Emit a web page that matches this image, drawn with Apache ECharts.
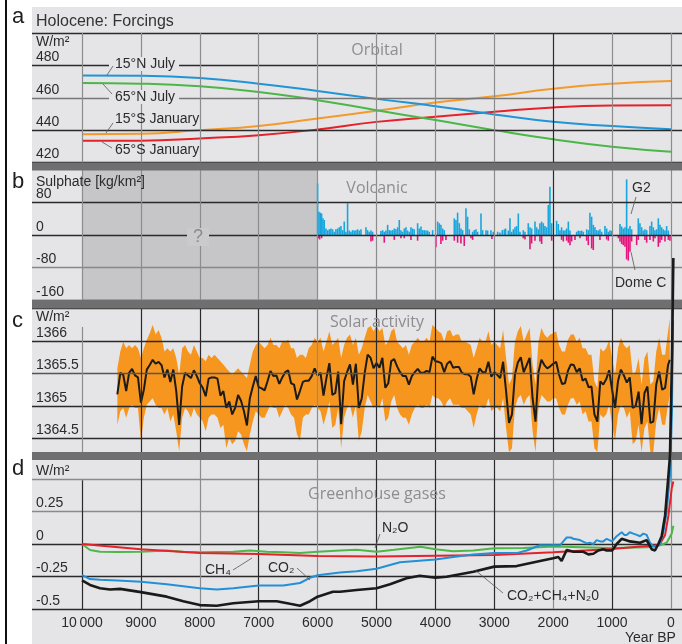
<!DOCTYPE html>
<html><head><meta charset="utf-8">
<script src="https://cdn.jsdelivr.net/npm/echarts@6/dist/echarts.min.js"></script>
<style>html,body{margin:0;padding:0;background:#fff}#c{width:682px;height:644px}</style>
</head><body><div id="c"></div>
<script>
// ---------- DATA ----------
const yearTicks = [10000,9000,8000,7000,6000,5000,4000,3000,2000,1000,0];

// a) Orbital insolation (W/m2)
const orbYears = [10000,9000,8000,7000,6000,5000,4000,3000,2000,1000,0];
const orb15NJuly = [473.8,473.6,472.2,468.7,464.2,459.3,454.8,449.7,445.1,442.5,440.6];
const orb65NJuly = [469.1,468.7,467.1,463.6,458.5,452.3,446.2,440.0,434.3,429.7,426.6];
const orb15SJan  = [437.5,437.8,440.0,442.5,447.2,451.9,457.0,460.9,465.6,468.7,470.3];
const orb65SJan  = [433.4,433.5,434.9,436.9,440.4,445.1,448.2,451.3,454.0,455.2,455.4];

// b) Volcanic sulphate (kg/km2) [year BP, value]
const g2Sulphate = [[6000,127],[5977,57],[5955,55],[5932,53],[5909,41],[5887,37],[5858,16],[5830,12],[5802,14],[5774,16],[5745,14],[5717,8],[5689,14],[5660,16],[5632,19],[5604,22],[5575,12],[5547,33],[5519,8],[5491,78],[5462,11],[5434,8],[5406,12],[5377,11],[5349,12],[5321,14],[5293,11],[5264,14],[5179,19],[5151,12],[5123,8],[5094,11],[5066,8],[4925,10],[4896,12],[4868,8],[4840,11],[4811,25],[4783,12],[4755,11],[4726,12],[4698,16],[4670,14],[4641,19],[4613,37],[4585,12],[4557,8],[4528,16],[4500,19],[4472,11],[4443,8],[4415,19],[4387,16],[4359,14],[4302,29],[4274,16],[4245,21],[4217,12],[4189,12],[4160,11],[4132,11],[4104,8],[4047,12],[3962,33],[3934,29],[3906,25],[3877,16],[3849,12],[3679,41],[3651,37],[3623,55],[3594,29],[3566,16],[3538,12],[3481,66],[3453,45],[3424,14],[3368,8],[3340,12],[3311,14],[3283,8],[3226,53],[3198,12],[3141,12],[3113,11],[3057,12],[3017,8],[2943,8],[2904,6],[2864,12],[2830,14],[2808,16],[2762,11],[2734,41],[2706,8],[2677,14],[2649,19],[2621,22],[2592,53],[2564,8],[2508,12],[2479,8],[2423,29],[2394,19],[2366,16],[2309,33],[2281,19],[2253,14],[2225,29],[2196,33],[2168,29],[2140,22],[2111,19],[2083,74],[2055,119],[2026,29],[1942,35],[1913,27],[1885,12],[1857,19],[1828,11],[1800,12],[1772,16],[1743,33],[1715,11],[1602,8],[1574,11],[1545,10],[1517,11],[1489,8],[1432,14],[1404,12],[1376,55],[1347,45],[1319,25],[1291,19],[1262,12],[1234,11],[1206,14],[1177,8],[1121,22],[1092,16],[1064,8],[1036,12],[1008,10],[866,27],[838,21],[810,16],[781,19],[753,137],[725,16],[696,22],[668,14],[555,41],[527,29],[498,19],[470,11],[442,14],[413,12],[357,22],[328,33],[300,19],[272,12],[243,14],[215,41],[187,25],[158,19],[130,14],[102,11],[74,22],[45,11]];
const domeCSulphate = [[5989,-8],[5966,-11],[5932,-8],[5094,-16],[5066,-14],[4868,-19],[4698,-12],[4585,-8],[4528,-8],[4415,-12],[4302,-14],[3991,-30],[3906,-22],[3877,-14],[3821,-12],[3679,-14],[3623,-19],[3566,-21],[3510,-27],[3396,-8],[3368,-12],[3040,-10],[2508,-8],[2479,-11],[2394,-35],[2366,-21],[2309,-14],[2225,-16],[2196,-22],[2026,-14],[1857,-12],[1828,-16],[1772,-14],[1743,-19],[1715,-25],[1687,-16],[1630,-12],[1545,-8],[1432,-14],[1404,-25],[1347,-33],[1319,-37],[1206,-12],[1092,-11],[1064,-14],[894,-8],[866,-16],[838,-22],[810,-25],[781,-29],[753,-60],[725,-63],[696,-41],[668,-16],[583,-25],[555,-12],[442,-12],[413,-19],[357,-12],[300,-16],[272,-8],[215,-29],[187,-19],[158,-12],[102,-16],[45,-12],[17,-14]];

// c) Solar irradiance (W/m2) [year BP, value]
const solarMean = [[9400,1365.18],[9350,1365.51],[9300,1365.48],[9250,1365.23],[9200,1365.51],[9150,1365.57],[9100,1365.47],[9050,1365.44],[9000,1365.05],[8950,1365.25],[8900,1365.56],[8850,1365.63],[8800,1365.71],[8750,1365.65],[8700,1365.68],[8650,1365.63],[8600,1365.44],[8550,1365.56],[8500,1365.37],[8450,1365.56],[8400,1365.23],[8350,1364.71],[8300,1365.30],[8250,1365.51],[8200,1365.47],[8150,1365.43],[8100,1365.55],[8050,1365.46],[8000,1365.35],[7950,1365.28],[7900,1365.15],[7850,1365.42],[7800,1365.44],[7750,1365.44],[7700,1365.42],[7650,1365.16],[7600,1365.23],[7550,1364.97],[7500,1365.07],[7450,1364.87],[7400,1364.97],[7350,1365.17],[7300,1365.08],[7250,1364.92],[7200,1364.70],[7150,1365.12],[7100,1365.30],[7050,1365.46],[7000,1365.29],[6950,1365.27],[6900,1365.24],[6850,1365.38],[6800,1365.54],[6750,1365.46],[6700,1365.47],[6650,1365.34],[6600,1365.44],[6550,1365.52],[6500,1365.55],[6450,1365.35],[6400,1365.33],[6350,1365.10],[6300,1365.23],[6250,1365.37],[6200,1365.39],[6150,1365.39],[6100,1365.46],[6050,1365.58],[6000,1365.47],[5950,1365.51],[5900,1365.16],[5850,1365.43],[5800,1365.66],[5750,1365.17],[5700,1365.20],[5650,1365.53],[5600,1364.72],[5550,1365.38],[5500,1365.52],[5450,1365.64],[5400,1365.33],[5350,1365.65],[5300,1364.97],[5250,1365.12],[5200,1365.51],[5150,1365.79],[5100,1365.74],[5050,1365.58],[5000,1365.66],[4950,1365.59],[4900,1365.74],[4850,1365.28],[4800,1365.35],[4750,1365.69],[4700,1365.72],[4650,1365.61],[4600,1365.52],[4550,1365.46],[4500,1365.46],[4450,1365.33],[4400,1365.46],[4350,1365.52],[4300,1365.57],[4250,1365.51],[4200,1365.51],[4150,1365.54],[4100,1365.52],[4050,1365.76],[4000,1365.69],[3950,1365.68],[3900,1365.66],[3850,1365.52],[3800,1365.65],[3750,1365.69],[3700,1365.59],[3650,1365.60],[3600,1365.60],[3550,1365.51],[3500,1365.49],[3450,1365.49],[3400,1365.45],[3350,1365.18],[3300,1365.41],[3250,1365.58],[3200,1365.52],[3150,1365.52],[3100,1365.68],[3050,1365.45],[3000,1365.52],[2950,1365.48],[2900,1365.43],[2850,1365.68],[2800,1365.23],[2750,1364.74],[2700,1364.87],[2650,1365.48],[2600,1365.67],[2550,1365.75],[2500,1365.52],[2450,1365.63],[2400,1365.74],[2350,1365.12],[2300,1364.76],[2250,1365.52],[2200,1365.71],[2150,1365.63],[2100,1365.58],[2050,1365.61],[2000,1365.65],[1950,1365.68],[1900,1365.48],[1850,1365.34],[1800,1365.35],[1750,1365.54],[1700,1365.64],[1650,1365.63],[1600,1365.52],[1550,1365.58],[1500,1365.39],[1450,1365.42],[1400,1365.29],[1350,1365.30],[1300,1364.87],[1250,1364.76],[1200,1365.38],[1150,1365.33],[1100,1365.41],[1050,1365.55],[1000,1365.25],[950,1364.97],[900,1365.38],[850,1365.56],[800,1365.47],[750,1365.36],[700,1365.44],[650,1364.97],[600,1365.00],[550,1365.22],[500,1364.72],[450,1365.20],[400,1365.30],[350,1364.74],[300,1364.76],[250,1365.33],[200,1365.53],[150,1365.25],[100,1365.28],[50,1365.63],[20,1365.71]];
const solarUpper = [[9400,1365.58],[9350,1365.84],[9300,1365.99],[9250,1365.89],[9200,1365.94],[9150,1365.89],[9100,1365.94],[9050,1365.89],[9000,1365.74],[8950,1365.89],[8900,1366.02],[8850,1366.12],[8800,1366.25],[8750,1366.10],[8700,1366.17],[8650,1366.05],[8600,1365.84],[8550,1365.89],[8500,1365.84],[8450,1365.89],[8400,1365.74],[8350,1365.48],[8300,1365.89],[8250,1365.94],[8200,1365.84],[8150,1365.79],[8100,1365.94],[8050,1365.84],[8000,1365.74],[7950,1365.74],[7900,1365.69],[7850,1365.79],[7800,1365.74],[7750,1365.79],[7700,1365.74],[7650,1365.69],[7600,1365.64],[7550,1365.58],[7500,1365.53],[7450,1365.48],[7400,1365.53],[7350,1365.58],[7300,1365.53],[7250,1365.48],[7200,1365.43],[7150,1365.64],[7100,1365.84],[7050,1365.94],[7000,1365.99],[6950,1365.94],[6900,1365.89],[6850,1365.94],[6800,1366.05],[6750,1365.94],[6700,1365.94],[6650,1365.89],[6600,1365.99],[6550,1365.99],[6500,1366.02],[6450,1365.89],[6400,1365.89],[6350,1365.74],[6300,1365.79],[6250,1365.79],[6200,1365.74],[6150,1365.89],[6100,1365.94],[6050,1366.05],[6000,1365.99],[5950,1366.05],[5900,1365.84],[5850,1365.99],[5800,1366.15],[5750,1365.94],[5700,1365.99],[5650,1366.05],[5600,1365.74],[5550,1365.94],[5500,1366.05],[5450,1366.10],[5400,1365.94],[5350,1366.05],[5300,1365.79],[5250,1365.89],[5200,1366.05],[5150,1366.20],[5100,1366.23],[5050,1366.15],[5000,1366.23],[4950,1366.15],[4900,1366.20],[4850,1365.94],[4800,1365.99],[4750,1366.15],[4700,1366.20],[4650,1365.99],[4600,1365.94],[4550,1365.89],[4500,1365.94],[4450,1365.79],[4400,1365.94],[4350,1365.99],[4300,1366.05],[4250,1365.99],[4200,1365.99],[4150,1366.05],[4100,1365.99],[4050,1366.25],[4000,1366.20],[3950,1366.15],[3900,1366.12],[3850,1365.99],[3800,1366.15],[3750,1366.17],[3700,1366.07],[3650,1366.10],[3600,1366.10],[3550,1365.99],[3500,1365.99],[3450,1365.97],[3400,1365.94],[3350,1365.74],[3300,1365.89],[3250,1366.05],[3200,1365.99],[3150,1365.99],[3100,1366.15],[3050,1365.94],[3000,1365.99],[2950,1365.94],[2900,1365.89],[2850,1366.17],[2800,1365.74],[2750,1365.33],[2700,1365.43],[2650,1365.99],[2600,1366.15],[2550,1366.23],[2500,1365.99],[2450,1366.10],[2400,1366.20],[2350,1365.64],[2300,1365.33],[2250,1365.99],[2200,1366.20],[2150,1366.10],[2100,1366.05],[2050,1366.10],[2000,1366.12],[1950,1366.15],[1900,1365.94],[1850,1365.84],[1800,1365.84],[1750,1366.02],[1700,1366.10],[1650,1366.10],[1600,1365.99],[1550,1366.05],[1500,1365.89],[1450,1365.89],[1400,1365.79],[1350,1365.79],[1300,1365.38],[1250,1365.28],[1200,1365.89],[1150,1365.84],[1100,1365.89],[1050,1366.02],[1000,1365.74],[950,1365.48],[900,1365.89],[850,1366.05],[800,1365.94],[750,1365.89],[700,1365.94],[650,1365.48],[600,1365.53],[550,1365.74],[500,1365.33],[450,1365.74],[400,1365.84],[350,1365.33],[300,1365.38],[250,1365.84],[200,1366.05],[150,1365.79],[100,1365.79],[50,1366.15],[20,1366.35]];
const solarLower = [[9400,1364.71],[9350,1364.92],[9300,1364.97],[9250,1364.82],[9200,1364.97],[9150,1365.02],[9100,1364.97],[9050,1364.97],[9000,1364.46],[8950,1364.82],[8900,1365.02],[8850,1365.07],[8800,1365.12],[8750,1365.02],[8700,1364.97],[8650,1364.97],[8600,1364.87],[8550,1364.97],[8500,1364.76],[8450,1364.87],[8400,1364.61],[8350,1364.30],[8300,1364.82],[8250,1364.97],[8200,1364.92],[8150,1364.82],[8100,1364.97],[8050,1364.87],[8000,1364.82],[7950,1364.76],[7900,1364.61],[7850,1364.82],[7800,1364.87],[7750,1364.87],[7700,1364.82],[7650,1364.66],[7600,1364.71],[7550,1364.35],[7500,1364.51],[7450,1364.41],[7400,1364.46],[7350,1364.61],[7300,1364.56],[7250,1364.41],[7200,1364.30],[7150,1364.56],[7100,1364.76],[7050,1364.92],[7000,1364.87],[6950,1364.82],[6900,1364.82],[6850,1364.92],[6800,1365.02],[6750,1364.97],[6700,1364.97],[6650,1364.82],[6600,1364.92],[6550,1365.02],[6500,1364.97],[6450,1364.87],[6400,1364.82],[6350,1364.56],[6300,1364.46],[6250,1364.82],[6200,1364.87],[6150,1364.87],[6100,1364.97],[6050,1365.02],[6000,1364.97],[5950,1364.92],[5900,1364.71],[5850,1364.87],[5800,1365.07],[5750,1364.66],[5700,1364.71],[5650,1364.97],[5600,1364.35],[5550,1364.82],[5500,1364.97],[5450,1365.02],[5400,1364.82],[5350,1365.02],[5300,1364.46],[5250,1364.61],[5200,1364.97],[5150,1365.17],[5100,1365.07],[5050,1364.97],[5000,1365.02],[4950,1364.97],[4900,1365.12],[4850,1364.76],[4800,1364.82],[4750,1365.07],[4700,1365.17],[4650,1364.97],[4600,1364.87],[4550,1364.82],[4500,1364.82],[4450,1364.71],[4400,1364.87],[4350,1364.97],[4300,1365.02],[4250,1364.97],[4200,1364.97],[4150,1365.02],[4100,1364.97],[4050,1365.17],[4000,1365.12],[3950,1365.12],[3900,1365.07],[3850,1364.97],[3800,1365.07],[3750,1365.12],[3700,1365.02],[3650,1365.02],[3600,1365.02],[3550,1364.97],[3500,1364.97],[3450,1364.92],[3400,1364.87],[3350,1364.66],[3300,1364.87],[3250,1365.02],[3200,1364.97],[3150,1364.97],[3100,1365.12],[3050,1364.92],[3000,1364.97],[2950,1364.97],[2900,1364.92],[2850,1365.12],[2800,1364.66],[2750,1364.29],[2700,1364.35],[2650,1364.97],[2600,1365.12],[2550,1365.17],[2500,1365.02],[2450,1365.12],[2400,1365.17],[2350,1364.61],[2300,1364.29],[2250,1364.97],[2200,1365.17],[2150,1365.12],[2100,1365.07],[2050,1365.07],[2000,1365.12],[1950,1365.12],[1900,1364.97],[1850,1364.87],[1800,1364.87],[1750,1365.02],[1700,1365.12],[1650,1365.12],[1600,1365.02],[1550,1365.07],[1500,1364.87],[1450,1364.92],[1400,1364.76],[1350,1364.76],[1300,1364.35],[1250,1364.29],[1200,1364.87],[1150,1364.82],[1100,1364.87],[1050,1365.02],[1000,1364.71],[950,1364.46],[900,1364.87],[850,1365.02],[800,1364.97],[750,1364.82],[700,1364.92],[650,1364.41],[600,1364.46],[550,1364.71],[500,1364.29],[450,1364.66],[400,1364.76],[350,1364.29],[300,1364.29],[250,1364.76],[200,1364.97],[150,1364.71],[100,1364.71],[50,1365.02],[20,1365.17]];

// d) Greenhouse gas forcing (W/m2) [year BP, value]
const ghgCO2 = [[10000,-0.24],[9864,-0.27],[9694,-0.275],[9400,-0.28],[9000,-0.29],[8562,-0.31],[8000,-0.34],[7713,-0.35],[7431,-0.34],[7000,-0.32],[6582,-0.32],[6299,-0.30],[6129,-0.26],[6000,-0.24],[5620,-0.22],[5336,-0.21],[5000,-0.19],[4601,-0.14],[4000,-0.12],[3696,-0.10],[3356,-0.08],[3000,-0.07],[2620,-0.07],[2450,-0.05],[2224,-0.01],[2000,-0.01],[1885,-0.01],[1828,0.02],[1771,0.05],[1700,0.05],[1658,0.04],[1545,0.03],[1431,0.005],[1380,0.01],[1318,0.0],[1262,0.03],[1200,0.02],[1149,0.02],[1092,0.04],[1000,0.02],[922,0.06],[837,0.09],[790,0.07],[752,0.07],[700,0.09],[640,0.08],[580,0.07],[526,0.06],[470,0.08],[413,0.07],[357,0.01],[300,-0.02],[243,-0.02],[187,0.0],[130,0.09],[73,0.25],[17,0.53],[-15,1.0],[-35,1.72]];
const ghgCH4 = [[10000,0],[9000,-0.04],[8000,-0.07],[7000,-0.077],[6000,-0.092],[5000,-0.097],[4000,-0.09],[3000,-0.085],[2000,-0.064],[1000,-0.038],[526,-0.02],[243,-0.01],[187,0.0],[100,0.07],[43,0.22],[-13,0.43],[-40,0.48]];
const ghgN2O = [[10000,0],[9864,-0.046],[9694,-0.06],[9400,-0.062],[9000,-0.06],[8562,-0.05],[8280,-0.06],[8000,-0.063],[7431,-0.06],[7150,-0.05],[6865,-0.06],[6582,-0.063],[6299,-0.07],[6000,-0.06],[5620,-0.05],[5336,-0.045],[5000,-0.06],[4700,-0.045],[4250,-0.022],[4000,-0.04],[3700,-0.055],[3356,-0.05],[3000,-0.032],[2500,-0.03],[2000,-0.02],[1000,-0.03],[400,-0.025],[187,-0.01],[73,0.01],[-13,0.08],[-40,0.14]];
const ghgTotal = [[10000,-0.28],[9864,-0.315],[9694,-0.34],[9524,-0.35],[9354,-0.345],[9000,-0.37],[8562,-0.405],[8280,-0.44],[8000,-0.47],[7713,-0.475],[7431,-0.456],[7000,-0.44],[6695,-0.44],[6469,-0.46],[6299,-0.475],[6129,-0.44],[6000,-0.405],[5740,-0.367],[5620,-0.367],[5336,-0.354],[5000,-0.34],[4770,-0.31],[4490,-0.264],[4265,-0.244],[4000,-0.26],[3809,-0.252],[3356,-0.213],[3000,-0.174],[2620,-0.17],[2224,-0.131],[2000,-0.11],[1913,-0.10],[1857,-0.13],[1771,-0.046],[1658,-0.06],[1488,-0.06],[1403,-0.08],[1318,-0.075],[1233,-0.05],[1149,-0.04],[1092,-0.05],[1000,-0.05],[922,0.0],[837,0.04],[696,0.02],[526,0.01],[413,0.03],[328,-0.04],[272,-0.05],[215,0.0],[158,0.06],[100,0.22],[43,0.53],[17,0.68],[-20,1.5],[-40,2.2]];

// ---------- LAYOUT / STYLE ----------
const FONT = '"Liberation Sans", Arial, "DejaVu Sans", sans-serif';
const TFONT = '"Open Sans", "Liberation Sans", sans-serif';
const X_MIN = -187, X_MAX = 10849;
const PANEL_BG = '#e5e5e7', SEP = '#6f6f6f', DARK = '#2a2a2a', GRAY = '#8c8c8c';

function hLine(v, color, label) {
  const it = {yAxis: v, lineStyle: {color: color, width: 1.4, type: 'solid'}};
  it.label = label == null ? {show: false} :
    {show: true, formatter: label, position: 'insideEndTop', distance: [4, 1], color: '#2b2b2b', fontSize: 14, fontFamily: FONT};
  return it;
}
function vLine(t, color, from, to) {
  if (from == null) return {xAxis: t, lineStyle: {color: color, width: 1.2, type: 'solid'}, label: {show: false}};
  return [{coord: [t, from], lineStyle: {color: color, width: 1.2, type: 'solid'}, label: {show: false}}, {coord: [t, to]}];
}
function gridSeries(i, items) {
  return {type: 'line', xAxisIndex: i, yAxisIndex: i, data: [], z: 1, silent: true, symbol: 'none',
    markLine: {silent: true, symbol: ['none', 'none'], animation: false, label: {show: false}, data: items}};
}
function vSet(darkList, special) {
  return yearTicks.map(t => {
    const c = darkList.indexOf(t) >= 0 ? DARK : GRAY;
    if (special && special[t]) return vLine(t, c, special[t][0], special[t][1]);
    return vLine(t, c);
  });
}

const grids = [
  {left: 32, width: 650, top: 33, height: 129.5},
  {left: 32, width: 650, top: 170, height: 130},
  {left: 32, width: 650, top: 308.5, height: 146.25},
  {left: 32, width: 650, top: 460, height: 149}
].map(g => Object.assign(g, {outerBoundsMode: 'none', containLabel: false}));

const xAxes = [0, 1, 2, 3].map(i => ({
  type: 'value', gridIndex: i, min: X_MIN, max: X_MAX, inverse: true, show: i === 3,
  axisLine: {show: false}, axisTick: {show: false, customValues: yearTicks}, splitLine: {show: false},
  axisLabel: {show: i === 3, customValues: yearTicks, margin: 7, color: '#2b2b2b', fontSize: 14, fontFamily: FONT,
    formatter: v => v === 10000 ? '10\u2009000' : String(v)}
}));
const yRanges = [[420, 500], [-160, 160], [1364.25, 1366.5], [-0.5, 0.6462]];
const yAxes = yRanges.map((r, i) => ({type: 'value', gridIndex: i, min: r[0], max: r[1], show: false, splitLine: {show: false}}));

const series = [];
// gridlines
series.push(gridSeries(0, [hLine(500, DARK), hLine(480, DARK, '480'), hLine(460, '#777', '460'), hLine(440, DARK, '440'), hLine(420, DARK, '420')]
  .concat(vSet([2000]))));
series.push(gridSeries(1, [hLine(80, DARK, '80'), hLine(0, DARK, '0'), hLine(-80, '#888', '-80'), hLine(-160, DARK, '-160')]
  .concat(vSet([2000]))));
series.push(gridSeries(2, [hLine(1366.5, DARK), hLine(1366, DARK, '1366'), hLine(1365.5, '#555', '1365.5'), hLine(1365, DARK, '1365'), hLine(1364.5, DARK, '1364.5')]
  .concat(vSet([9000, 8000, 7000, 5000, 4000, 3000, 2000, 1000], {10000: [1366.215, 1364.25]}))));
series.push(gridSeries(3, [hLine(0.5, '#8a8a8a'), hLine(0.25, '#8a8a8a', '0.25'), hLine(0, DARK, '0'), hLine(-0.25, DARK, '-0.25'), hLine(-0.5, DARK, '-0.5')]
  .concat(vSet([10000, 9000, 7000, 5000, 4000, 3000, 1000], {10000: [0.49, -0.5]}))));

// a) orbital
const pair = (xs, ys) => xs.map((x, i) => [x, ys[i]]);
[[orb65SJan, '#e4222b'], [orb15SJan, '#f39a2b'], [orb65NJuly, '#4bb749'], [orb15NJuly, '#1f95d6']].forEach(([d, c]) => {
  series.push({type: 'line', xAxisIndex: 0, yAxisIndex: 0, data: pair(orbYears, d), smooth: true, symbol: 'none',
    lineStyle: {color: c, width: 2}, z: 3, silent: true});
});

// b) volcanic
series.push({type: 'bar', xAxisIndex: 1, yAxisIndex: 1, data: g2Sulphate, barWidth: 1.6, barGap: '-100%',
  itemStyle: {color: '#17a6dd'}, z: 3, silent: true,
  markArea: {silent: true, itemStyle: {color: 'rgba(168,168,172,0.5)'}, data: [[{xAxis: 10000}, {xAxis: 6000}]]}});
series.push({type: 'bar', xAxisIndex: 1, yAxisIndex: 1, data: domeCSulphate, barWidth: 1.6, barGap: '-100%',
  itemStyle: {color: '#e3157c'}, z: 3, silent: true});

// c) solar: min-max band as a polygon through the axes, then the mean line
series.push({type: 'custom', xAxisIndex: 2, yAxisIndex: 2, data: [[5000, 1365]], z: 2, silent: true, clip: true,
  renderItem: function (params, api) {
    const pts = solarUpper.map(p => api.coord(p)).concat(solarLower.slice().reverse().map(p => api.coord(p)));
    const cs = params.coordSys;
    return {type: 'polygon', shape: {points: pts}, style: {fill: '#f7961f'},
      clipPath: {type: 'rect', shape: {x: cs.x, y: cs.y, width: cs.width, height: cs.height}}};
  }});
series.push({type: 'line', xAxisIndex: 2, yAxisIndex: 2, data: solarMean, symbol: 'none',
  lineStyle: {color: '#1d1b18', width: 2}, z: 3, silent: true});

// d) greenhouse gases
[[ghgN2O, '#4cb848', 2], [ghgCH4, '#e4222b', 2], [ghgCO2, '#2290d6', 2], [ghgTotal, '#1a1a1a', 2.6]].forEach(([d, c, w]) => {
  series.push({type: 'line', xAxisIndex: 3, yAxisIndex: 3, data: d, symbol: 'none', clip: false,
    lineStyle: {color: c, width: w}, z: 60, silent: true});
});

// ---------- GRAPHIC (backgrounds, separators, text) ----------
function T(x, y, text, o) {
  return {type: 'text', x: x, y: y, z: 70, silent: true,
    style: Object.assign({text: text, fill: '#2b2b2b', font: '14px ' + FONT, align: 'left', verticalAlign: 'middle',
      textAlign: 'left', textVerticalAlign: 'middle'}, o || {})};
}
function L(x1, y1, x2, y2) {
  return {type: 'line', z: 70, silent: true, shape: {x1: x1, y1: y1, x2: x2, y2: y2}, style: {stroke: '#555', lineWidth: 0.8}};
}
const title = (x, y, s) => T(x, y, s, {fill: '#8d8d8f', font: '16px ' + TFONT, align: 'center', textAlign: 'center'});
const letter = (y, s) => T(12, y, s, {fill: '#1e1e1e', font: '22px ' + FONT});

const graphics = [
  {type: 'rect', z: -10, silent: true, shape: {x: 32, y: 7, width: 650, height: 637}, style: {fill: PANEL_BG}},
  {type: 'rect', z: 50, silent: true, shape: {x: 32, y: 162.5, width: 650, height: 8}, style: {fill: SEP}},
  {type: 'rect', z: 50, silent: true, shape: {x: 32, y: 300, width: 650, height: 8.5}, style: {fill: SEP}},
  {type: 'rect', z: 50, silent: true, shape: {x: 32, y: 452, width: 650, height: 8}, style: {fill: SEP}},
  {type: 'rect', z: 70, silent: true, shape: {x: 5, y: 0, width: 2, height: 644}, style: {fill: '#111'}},
  letter(17, 'a'), letter(182, 'b'), letter(321, 'c'), letter(469, 'd'),
  T(36, 22, 'Holocene: Forcings', {font: '16px ' + FONT, fill: '#333'}),
  T(36, 42, 'W/m²'), T(36, 182, 'Sulphate [kg/km²]'), T(36, 317, 'W/m²'), T(36, 471, 'W/m²'),
  title(377, 50, 'Orbital'), title(377, 188, 'Volcanic'), title(377, 322, 'Solar activity'), title(377, 494, 'Greenhouse gases'),
  T(109, 64, '15°N July', {backgroundColor: PANEL_BG, padding: [0, 4, 0, 6]}),
  T(109, 97, '65°N July', {backgroundColor: PANEL_BG, padding: [0, 4, 0, 6]}),
  T(115, 119, '15°S January'),
  T(115, 150, '65°S January'),
  L(113, 66, 107, 75), L(103, 84, 112, 94), L(113, 123, 106, 133), L(102, 142, 112, 148),
  T(198, 237, '?', {fill: '#8a8a8a', font: '18px ' + FONT, align: 'center', textAlign: 'center', backgroundColor: '#cacacc', padding: [0, 6]}),
  T(632, 188, 'G2'), L(636, 197, 631, 214),
  T(615, 283, 'Dome C'), L(631, 252, 635, 270),
  T(382, 528, 'N₂O'), L(380, 534, 375, 548),
  T(205, 570, 'CH₄'), L(233, 570, 252, 558),
  T(268, 568, 'CO₂'), L(297, 568, 310, 580),
  T(507, 596, 'CO₂+CH₄+N₂0'), L(503, 593, 475, 570),
  T(625, 638, 'Year BP')
];

const chart = echarts.init(document.getElementById('c'), null, {renderer: 'canvas'});
chart.setOption({
  animation: false,
  backgroundColor: '#ffffff',
  grid: grids, xAxis: xAxes, yAxis: yAxes,
  series: series,
  graphic: {elements: graphics}
});
</script>
</body></html>
